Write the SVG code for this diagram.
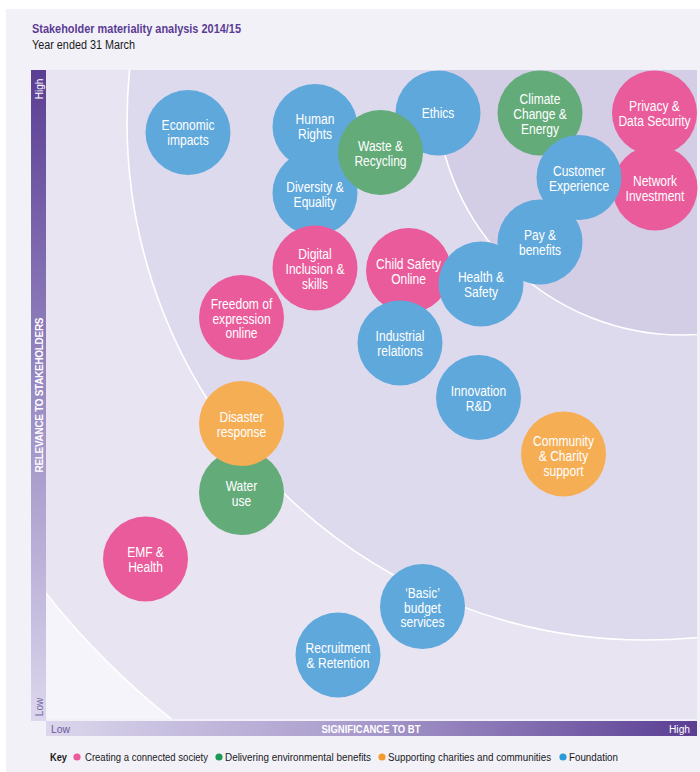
<svg xmlns="http://www.w3.org/2000/svg" width="700" height="772" viewBox="0 0 700 772">
<defs>
<style>
.node circle{stroke:none}
.blue circle{fill:#5fa8dc}
.pink circle{fill:#ea5b9b}
.green circle{fill:#63ab79}
.orange circle{fill:#f6ae55}
.lbl{font-family:"Liberation Sans",Arial,sans-serif;font-size:14.5px;fill:#ffffff;text-anchor:middle}
.ttl{font-family:"Liberation Sans",Arial,sans-serif}
.arc{stroke:#ffffff;stroke-width:1.6}
.key{font-family:"Liberation Sans",Arial,sans-serif;font-size:11.5px;fill:#1a1a1a}
.ax{font-family:"Liberation Sans",Arial,sans-serif;font-size:10px}
</style>
<linearGradient id="gv" x1="0" y1="0" x2="0" y2="1">
<stop offset="0" stop-color="#5a3e93"/>
<stop offset="0.5" stop-color="#9a8bc3"/>
<stop offset="1" stop-color="#dcd7ec"/>
</linearGradient>
<linearGradient id="gh" x1="0" y1="0" x2="1" y2="0">
<stop offset="0" stop-color="#dcd7ec"/>
<stop offset="0.5" stop-color="#a698ca"/>
<stop offset="1" stop-color="#5a3e93"/>
</linearGradient>
<clipPath id="plot"><rect x="46" y="70" width="651" height="649"/></clipPath>
</defs>
<rect width="700" height="772" fill="#ffffff"/>
<rect x="6" y="9" width="694" height="763" fill="#f2f1f8"/>
<text class="ttl" x="32" y="33" font-size="13" font-weight="bold" fill="#5b3c94" textLength="209" lengthAdjust="spacingAndGlyphs">Stakeholder materiality analysis 2014/15</text>
<text class="ttl" x="32" y="49" font-size="12.5" fill="#1a1a1a" textLength="103" lengthAdjust="spacingAndGlyphs">Year ended 31 March</text>

<g id="background" clip-path="url(#plot)">
<rect x="46" y="70" width="651" height="649" fill="#f5f4fa"/>
<circle class="arc" cx="645" cy="122" r="762" fill="#e8e4f2"/>
<circle class="arc" cx="645" cy="122" r="518" fill="#dedaee"/>
<circle class="arc" cx="682" cy="89" r="246" fill="#d3cde5"/>
</g>

<g id="axes">
<rect x="31" y="70" width="15" height="651" fill="url(#gv)"/>
<rect x="46" y="721" width="651" height="15" fill="url(#gh)"/>
<text class="ax" transform="translate(42.5,89) rotate(-90)" text-anchor="middle" fill="#ffffff">High</text>
<text class="ax" transform="translate(42.5,707) rotate(-90)" text-anchor="middle" fill="#7a68a8">Low</text>
<text class="ax" transform="translate(42.5,395) rotate(-90)" text-anchor="middle" fill="#ffffff" font-weight="bold" textLength="155" lengthAdjust="spacing">RELEVANCE TO STAKEHOLDERS</text>
<text class="ax" x="51" y="732.5" fill="#6b5a9e" textLength="19" lengthAdjust="spacingAndGlyphs">Low</text>
<text class="ax" x="371" y="732.5" text-anchor="middle" fill="#ffffff" font-weight="bold" textLength="99" lengthAdjust="spacingAndGlyphs">SIGNIFICANCE TO BT</text>
<text class="ax" x="690" y="732.5" text-anchor="end" fill="#ffffff" textLength="21" lengthAdjust="spacingAndGlyphs">High</text>
</g>

<g id="connectors"></g>

<g id="nodes">
<g id="n-economic" class="node blue" transform="translate(188,132.5)"><circle r="42.5"/><text class="lbl" transform="scale(0.83,1)"><tspan x="0" y="-2.5">Economic</tspan><tspan x="0" y="12.5">impacts</tspan></text></g>
<g id="n-human-rights" class="node blue" transform="translate(315,126.5)"><circle r="42.5"/><text class="lbl" transform="scale(0.83,1)"><tspan x="0" y="-2.5">Human</tspan><tspan x="0" y="12.5">Rights</tspan></text></g>
<g id="n-diversity" class="node blue" transform="translate(315,193)"><circle r="42.5"/><text class="lbl" transform="scale(0.83,1)"><tspan x="0" y="-1">Diversity &amp;</tspan><tspan x="0" y="14">Equality</tspan></text></g>
<g id="n-ethics" class="node blue" transform="translate(438,113)"><circle r="42.5"/><text class="lbl" transform="scale(0.83,1)"><tspan x="0" y="4.5">Ethics</tspan></text></g>
<g id="n-waste" class="node green" transform="translate(380.5,152.5)"><circle r="42.5"/><text class="lbl" transform="scale(0.83,1)"><tspan x="0" y="-1.5">Waste &amp;</tspan><tspan x="0" y="13.5">Recycling</tspan></text></g>
<g id="n-climate" class="node green" transform="translate(540,113)"><circle r="42.5"/><text class="lbl" transform="scale(0.83,1)"><tspan x="0" y="-9">Climate</tspan><tspan x="0" y="6">Change &amp;</tspan><tspan x="0" y="21">Energy</tspan></text></g>
<g id="n-privacy" class="node pink" transform="translate(654.5,113)"><circle r="42.5"/><text class="lbl" transform="scale(0.83,1)"><tspan x="0" y="-2">Privacy &amp;</tspan><tspan x="0" y="13">Data Security</tspan></text></g>
<g id="n-network" class="node pink" transform="translate(655,188)"><circle r="42.5"/><text class="lbl" transform="scale(0.83,1)"><tspan x="0" y="-2.5">Network</tspan><tspan x="0" y="12.5">Investment</tspan></text></g>
<g id="n-customer" class="node blue" transform="translate(579,177.5)"><circle r="42.5"/><text class="lbl" transform="scale(0.83,1)"><tspan x="0" y="-2">Customer</tspan><tspan x="0" y="13">Experience</tspan></text></g>
<g id="n-pay" class="node blue" transform="translate(540,242)"><circle r="42.5"/><text class="lbl" transform="scale(0.83,1)"><tspan x="0" y="-2">Pay &amp;</tspan><tspan x="0" y="13">benefits</tspan></text></g>
<g id="n-digital" class="node pink" transform="translate(315,268)"><circle r="42.5"/><text class="lbl" transform="scale(0.83,1)"><tspan x="0" y="-9">Digital</tspan><tspan x="0" y="6">Inclusion &amp;</tspan><tspan x="0" y="21">skills</tspan></text></g>
<g id="n-child-safety" class="node pink" transform="translate(408.5,270.5)"><circle r="42.5"/><text class="lbl" transform="scale(0.83,1)"><tspan x="0" y="-2">Child Safety</tspan><tspan x="0" y="13">Online</tspan></text></g>
<g id="n-health-safety" class="node blue" transform="translate(481,284)"><circle r="42.5"/><text class="lbl" transform="scale(0.83,1)"><tspan x="0" y="-2">Health &amp;</tspan><tspan x="0" y="13">Safety</tspan></text></g>
<g id="n-industrial" class="node blue" transform="translate(400,343)"><circle r="42.5"/><text class="lbl" transform="scale(0.83,1)"><tspan x="0" y="-2">Industrial</tspan><tspan x="0" y="13">relations</tspan></text></g>
<g id="n-freedom" class="node pink" transform="translate(241.5,317.5)"><circle r="42.5"/><text class="lbl" transform="scale(0.83,1)"><tspan x="0" y="-9">Freedom of</tspan><tspan x="0" y="6">expression</tspan><tspan x="0" y="21">online</tspan></text></g>
<g id="n-innovation" class="node blue" transform="translate(478.5,397.5)"><circle r="42.5"/><text class="lbl" transform="scale(0.83,1)"><tspan x="0" y="-2">Innovation</tspan><tspan x="0" y="13">R&amp;D</tspan></text></g>
<g id="n-community" class="node orange" transform="translate(563.5,454)"><circle r="42.5"/><text class="lbl" transform="scale(0.83,1)"><tspan x="0" y="-8">Community</tspan><tspan x="0" y="7">&amp; Charity</tspan><tspan x="0" y="22">support</tspan></text></g>
<g id="n-water" class="node green" transform="translate(241.5,492.5)"><circle r="42.5"/><text class="lbl" transform="scale(0.83,1)"><tspan x="0" y="-2">Water</tspan><tspan x="0" y="13">use</tspan></text></g>
<g id="n-disaster" class="node orange" transform="translate(241.5,423.5)"><circle r="42.5"/><text class="lbl" transform="scale(0.83,1)"><tspan x="0" y="-2">Disaster</tspan><tspan x="0" y="13">response</tspan></text></g>
<g id="n-emf" class="node pink" transform="translate(145.5,559)"><circle r="42.5"/><text class="lbl" transform="scale(0.83,1)"><tspan x="0" y="-2">EMF &amp;</tspan><tspan x="0" y="13">Health</tspan></text></g>
<g id="n-basic" class="node blue" transform="translate(422.5,606.5)"><circle r="42.5"/><text class="lbl" transform="scale(0.83,1)"><tspan x="0" y="-9">‘Basic’</tspan><tspan x="0" y="6">budget</tspan><tspan x="0" y="21">services</tspan></text></g>
<g id="n-recruitment" class="node blue" transform="translate(338,655)"><circle r="42.5"/><text class="lbl" transform="scale(0.83,1)"><tspan x="0" y="-2">Recruitment</tspan><tspan x="0" y="13">&amp; Retention</tspan></text></g>
</g>

<g id="key">
<text class="key" transform="translate(50,760.5) scale(0.85,1)" font-weight="bold" textLength="20" lengthAdjust="spacingAndGlyphs">Key</text>
<circle cx="77" cy="757" r="3.6" fill="#ea5b9b"/>
<text class="key" transform="translate(85,760.5) scale(0.85,1)" textLength="144.7" lengthAdjust="spacingAndGlyphs">Creating a connected society</text>
<circle cx="219" cy="757" r="3.6" fill="#1a9a55"/>
<text class="key" transform="translate(225,760.5) scale(0.85,1)" textLength="171.8" lengthAdjust="spacingAndGlyphs">Delivering environmental benefits</text>
<circle cx="382" cy="757" r="3.6" fill="#f59a2e"/>
<text class="key" transform="translate(388,760.5) scale(0.85,1)" textLength="191.8" lengthAdjust="spacingAndGlyphs">Supporting charities and communities</text>
<circle cx="563" cy="757" r="3.6" fill="#2a9ad8"/>
<text class="key" transform="translate(569,760.5) scale(0.85,1)" textLength="57.6" lengthAdjust="spacingAndGlyphs">Foundation</text>
</g>
</svg>
